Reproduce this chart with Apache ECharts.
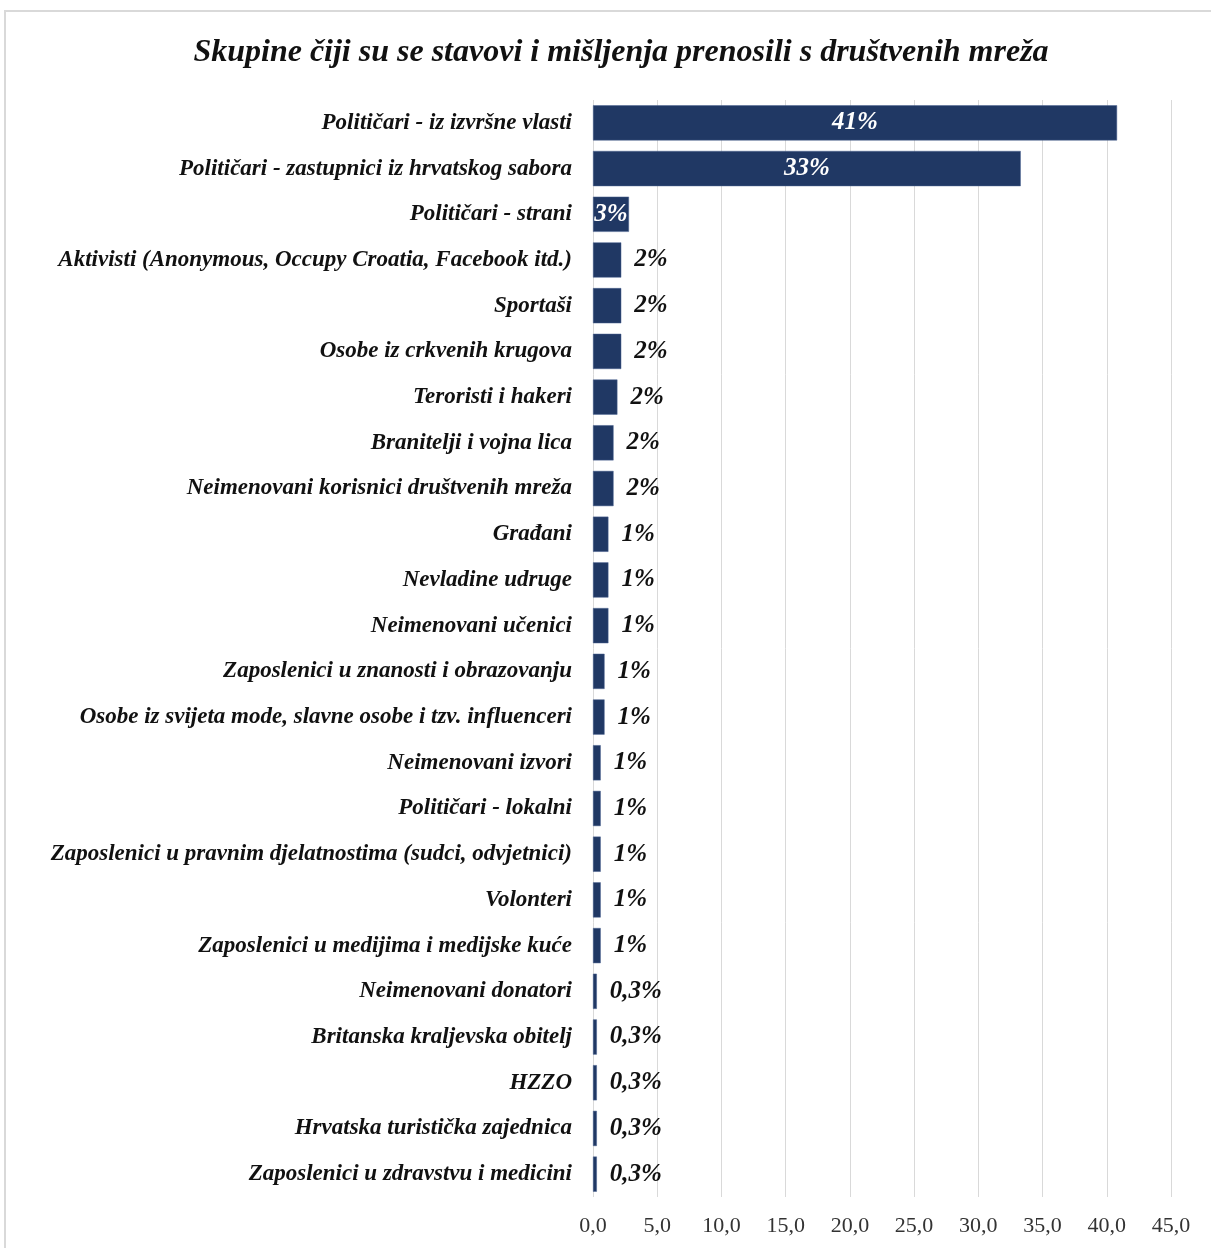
<!DOCTYPE html>
<html>
<head>
<meta charset="utf-8">
<script src="https://cdn.jsdelivr.net/npm/echarts@6/dist/echarts.min.js"></script>
<style>
html,body{margin:0;padding:0;background:#fff;}
#chart{width:1211px;height:1248px;}
</style>
</head>
<body>
<div id="chart"></div>
<script>
const categories = [
  "Političari - iz izvršne vlasti",
  "Političari - zastupnici iz hrvatskog sabora",
  "Političari - strani",
  "Aktivisti (Anonymous, Occupy Croatia, Facebook itd.)",
  "Sportaši",
  "Osobe iz crkvenih krugova",
  "Teroristi i hakeri",
  "Branitelji i vojna lica",
  "Neimenovani korisnici društvenih mreža",
  "Građani",
  "Nevladine udruge",
  "Neimenovani učenici",
  "Zaposlenici u znanosti i obrazovanju",
  "Osobe iz svijeta mode, slavne osobe i tzv. influenceri",
  "Neimenovani izvori",
  "Političari - lokalni",
  "Zaposlenici u pravnim djelatnostima (sudci, odvjetnici)",
  "Volonteri",
  "Zaposlenici u medijima i medijske kuće",
  "Neimenovani donatori",
  "Britanska kraljevska obitelj",
  "HZZO",
  "Hrvatska turistička zajednica",
  "Zaposlenici u zdravstvu i medicini"
];
const values = [40.8, 33.3, 2.8, 2.2, 2.2, 2.2, 1.9, 1.6, 1.6, 1.2, 1.2, 1.2, 0.9, 0.9, 0.6, 0.6, 0.6, 0.6, 0.6, 0.3, 0.3, 0.3, 0.3, 0.3];
const valueLabels = ["41%", "33%", "3%", "2%", "2%", "2%", "2%", "2%", "2%", "1%", "1%", "1%", "1%", "1%", "1%", "1%", "1%", "1%", "1%", "0,3%", "0,3%", "0,3%", "0,3%", "0,3%"];
const insideCount = 3;
const xTicks = {min: 0, max: 45, interval: 5};

const serif = '"Liberation Serif","Times New Roman",serif';
const chart = echarts.init(document.getElementById('chart'));

const data = values.map((v, i) => ({
  value: v,
  label: i < insideCount
    ? {position: 'inside', color: '#fff', distance: 0}
    : {position: 'right', color: '#111', distance: 13}
}));

chart.setOption({
  animation: false,
  backgroundColor: '#fff',
  graphic: [{
    type: 'rect',
    shape: {x: 5, y: 11, width: 1230, height: 1260},
    style: {fill: 'none', stroke: '#d9d9d9', lineWidth: 2},
    silent: true
  }],
  title: {
    text: 'Skupine čiji su se stavovi i mišljenja prenosili s društvenih mreža',
    left: 616,
    textAlign: 'center',
    top: 32,
    textStyle: {fontFamily: serif, fontStyle: 'italic', fontWeight: 'bold', fontSize: 32, color: '#111'}
  },
  grid: {left: 593, right: 40, top: 100, bottom: 51},
  xAxis: {
    type: 'value',
    min: xTicks.min, max: xTicks.max, interval: xTicks.interval,
    axisLine: {show: false},
    axisTick: {show: false},
    splitLine: {show: true, lineStyle: {color: '#d9d9d9', width: 1}},
    axisLabel: {
      fontFamily: serif, fontSize: 22, color: '#333', margin: 18,
      formatter: v => v.toFixed(1).replace('.', ',')
    }
  },
  yAxis: {
    type: 'category',
    data: categories,
    inverse: true,
    axisLine: {show: false},
    axisTick: {show: false},
    axisLabel: {
      fontFamily: serif, fontStyle: 'italic', fontWeight: 'bold', fontSize: 23, color: '#111', margin: 21,
      padding: [4, 0, 0, 0]
    }
  },
  series: [{
    type: 'bar',
    data: data,
    barCategoryGap: '23%',
    itemStyle: {color: '#203864', borderColor: '#4a6291', borderWidth: 0.5},
    label: {
      show: true,
      fontFamily: serif, fontStyle: 'italic', fontWeight: 'bold', fontSize: 25,
      padding: [4, 0, 0, 0],
      formatter: p => valueLabels[p.dataIndex]
    }
  }]
});
</script>
</body>
</html>
